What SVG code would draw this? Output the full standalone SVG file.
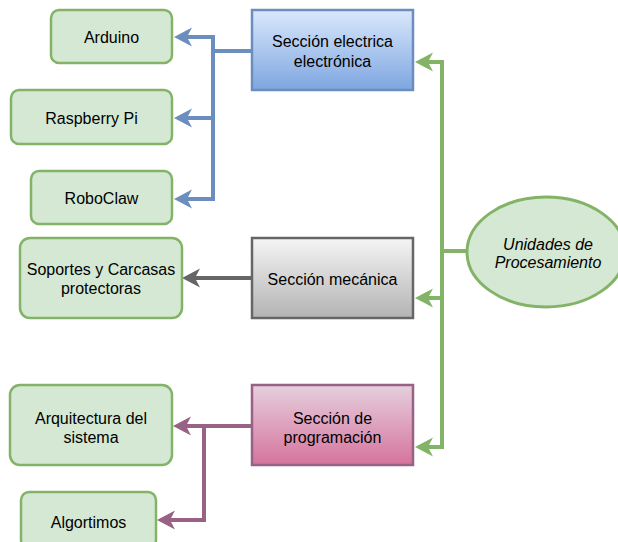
<svg xmlns="http://www.w3.org/2000/svg" width="618" height="542" viewBox="0 0 618 542">
<defs>
<linearGradient id="gBlue" x1="0" y1="0" x2="0" y2="1"><stop offset="0" stop-color="#dae8fc"/><stop offset="1" stop-color="#7ea6e0"/></linearGradient>
<linearGradient id="gGray" x1="0" y1="0" x2="0" y2="1"><stop offset="0" stop-color="#f5f5f5"/><stop offset="1" stop-color="#b3b3b3"/></linearGradient>
<linearGradient id="gPink" x1="0" y1="0" x2="0" y2="1"><stop offset="0" stop-color="#e6d0de"/><stop offset="1" stop-color="#d5739d"/></linearGradient>
<marker id="aBlue" viewBox="-6 -10 20 20" markerWidth="20" markerHeight="20" markerUnits="userSpaceOnUse" refX="0" refY="0" orient="auto" overflow="visible"><path d="M13,0 L-5,-9.5 L0,0 L-5,9.5 Z" fill="#6c8ebf"/></marker>
<marker id="aGray" viewBox="-6 -10 20 20" markerWidth="20" markerHeight="20" markerUnits="userSpaceOnUse" refX="0" refY="0" orient="auto" overflow="visible"><path d="M13,0 L-5,-9.5 L0,0 L-5,9.5 Z" fill="#666666"/></marker>
<marker id="aGreen" viewBox="-6 -10 20 20" markerWidth="20" markerHeight="20" markerUnits="userSpaceOnUse" refX="0" refY="0" orient="auto" overflow="visible"><path d="M13,0 L-5,-9.5 L0,0 L-5,9.5 Z" fill="#82b366"/></marker>
<marker id="aPurple" viewBox="-6 -10 20 20" markerWidth="20" markerHeight="20" markerUnits="userSpaceOnUse" refX="0" refY="0" orient="auto" overflow="visible"><path d="M13,0 L-5,-9.5 L0,0 L-5,9.5 Z" fill="#996185"/></marker>
</defs>
<style>
text{font-family:"Liberation Sans",Arial,sans-serif;font-size:16px;fill:#000;text-anchor:middle}
.leaf{fill:#d5e8d4;stroke:#82b366;stroke-width:2.5}
.conn{fill:none;stroke-width:4}
.blue{stroke:#6c8ebf}
.gray{stroke:#666666}
.green{stroke:#82b366}
.purple{stroke:#996185}
</style>
<g id="connectors">
<path class="conn blue" d="M252,51 H213 V37 H187" marker-end="url(#aBlue)"/>
<path class="conn blue" d="M252,51 H213 V118 H187" marker-end="url(#aBlue)"/>
<path class="conn blue" d="M252,51 H213 V199 H187" marker-end="url(#aBlue)"/>
<path class="conn gray" d="M252,278 H195" marker-end="url(#aGray)"/>
<path class="conn green" d="M467,251 H442 V62 H428" marker-end="url(#aGreen)"/>
<path class="conn green" d="M467,251 H442 V298 H428" marker-end="url(#aGreen)"/>
<path class="conn green" d="M467,251 H442 V447 H428" marker-end="url(#aGreen)"/>
<path class="conn purple" d="M252,426 H186" marker-end="url(#aPurple)"/>
<path class="conn purple" d="M252,426 H204 V520 H170" marker-end="url(#aPurple)"/>
</g>
<g id="arduino"><rect class="leaf" x="51" y="10" width="121" height="53" rx="8"/><text x="111.5" y="43">Arduino</text></g>
<g id="raspberry"><rect class="leaf" x="11" y="90" width="161" height="54" rx="8"/><text x="91.5" y="123.5">Raspberry Pi</text></g>
<g id="roboclaw"><rect class="leaf" x="31" y="171" width="141" height="53" rx="8"/><text x="101.5" y="204">RoboClaw</text></g>
<g id="electrica"><rect x="252" y="10" width="161" height="80" fill="url(#gBlue)" stroke="#6c8ebf" stroke-width="2.5"/><text x="332.5" y="47">Sección electrica</text><text x="332.5" y="66.5">electrónica</text></g>
<g id="soportes"><rect class="leaf" x="20" y="238" width="162" height="80" rx="10"/><text x="101" y="275">Soportes y Carcasas</text><text x="101" y="294">protectoras</text></g>
<g id="mecanica"><rect x="252" y="238" width="161" height="80" fill="url(#gGray)" stroke="#666666" stroke-width="2.5"/><text x="332.5" y="284.5">Sección mecánica</text></g>
<g id="unidades"><ellipse cx="546" cy="252" rx="79" ry="55" fill="#d5e8d4" stroke="#82b366" stroke-width="3"/><text x="548" y="249.5" font-style="italic">Unidades de</text><text x="548" y="268" font-style="italic">Procesamiento</text></g>
<g id="programacion"><rect x="252" y="385" width="161" height="80" fill="url(#gPink)" stroke="#996185" stroke-width="2.5"/><text x="332.5" y="423.5">Sección de</text><text x="332.5" y="442.5">programación</text></g>
<g id="arquitectura"><rect class="leaf" x="10" y="385" width="162" height="80" rx="10"/><text x="91" y="423.5">Arquitectura del</text><text x="91" y="442.5">sistema</text></g>
<g id="algortimos"><rect class="leaf" x="21" y="492" width="135" height="56" rx="8"/><text x="88.5" y="527.5">Algortimos</text></g>
</svg>
